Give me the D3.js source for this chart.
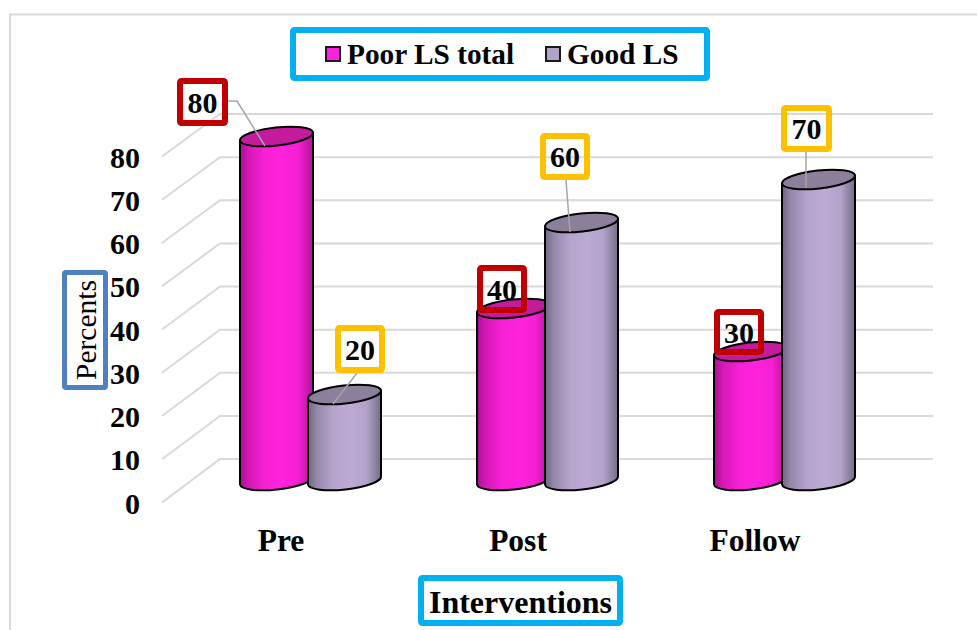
<!DOCTYPE html>
<html>
<head>
<meta charset="utf-8">
<script src="https://cdn.jsdelivr.net/npm/d3@7/dist/d3.min.js"></script>
<style>
  html, body { margin: 0; padding: 0; background: #fff; }
  svg { display: block; }
  text { font-family: "Liberation Serif", "Times New Roman", serif; fill: #000; }
</style>
</head>
<body>
<svg id="chart" width="977" height="630"></svg>
<script>
const categories = ["Pre", "Post", "Follow"];
const seriesNames = ["Poor LS total", "Good LS"];
const poorValues = [80, 40, 30];
const goodValues = [20, 60, 70];
const tickValues = [0, 10, 20, 30, 40, 50, 60, 70, 80];
const axisTitle = "Percents";
const categoryTitle = "Interventions";

const palette = {
  poor: { edge: "#a8108f", mid: "#ff22dc", top: "#c41a9e", box: "#c00000" },
  good: { edge: "#6e6580", mid: "#bcaad4", top: "#8b7f9c", box: "#ffc000" }
};

const svg = d3.select("#chart");
const defs = svg.append("defs");

// Shared value scales for the floor depth of the pseudo-3D plot.
const yFront = d3.scaleLinear().domain([0, 80]).range([503.5, 157.5]);
const yBack = d3.scaleLinear().domain([0, 80]).range([459, 114]);
const yBar = d3.scaleLinear().domain([0, 80]).range([480.5, 136.5]);
const xCat = d3.scaleBand().domain(categories).range([162.5, 873.5]);
const xSeries = d3.scaleBand().domain(seriesNames).range([-39, 97]);

// Outer frame of the chart area, running off the right and bottom edges.
svg.append("path")
  .attr("d", d3.line()([[10, 640], [10, 14.5], [990, 14.5]]))
  .attr("fill", "none").attr("stroke", "#d9d9d9").attr("stroke-width", 2);

// Back wall gridlines with the diagonal floor/side lines.
const grid = svg.append("g").attr("stroke", "#d9d9d9").attr("stroke-width", 2).attr("fill", "none");
grid.selectAll("path").data(tickValues).join("path")
  .attr("d", v => d3.line()([[162, yFront(v) - 1], [220, yBack(v)], [933, yBack(v)]]));

// Tick labels on the front edge of the value axis.
const axis = svg.append("g")
  .attr("transform", "translate(146,0)")
  .call(d3.axisLeft(yFront).tickValues(tickValues).tickSize(0).tickPadding(6));
axis.select(".domain").remove();
axis.selectAll("text")
  .style("font-family", '"Liberation Serif", serif')
  .style("font-size", "30px").style("font-weight", "700").attr("fill", "#000");

// Horizontal shading across each cylinder.
Object.entries(palette).forEach(([key, c]) => {
  const g = defs.append("linearGradient").attr("id", "body-" + key);
  const mix = d3.interpolateRgb(c.edge, c.mid);
  [[0, c.edge], [0.12, mix(0.5)], [0.35, mix(0.92)], [0.58, c.mid], [0.8, mix(0.88)], [1, mix(0.1)]]
    .forEach(([o, col]) => g.append("stop").attr("offset", o).attr("stop-color", col));
});

const halfWidth = 36.5, tilt = 4, rx = Math.hypot(halfWidth, tilt), ry = 9;
const angle = -Math.atan2(tilt, halfWidth) * 180 / Math.PI;

function drawCylinder(parent, cx, value, key) {
  const x0 = cx - halfWidth, x1 = cx + halfWidth;
  const yT = yBar(value), yB = yBar(0);
  const g = parent.append("g").attr("stroke", "#000").attr("stroke-width", 2);
  g.append("path")
    .attr("fill", `url(#body-${key})`)
    .attr("d", `M${x0},${yT + tilt}L${x0},${yB + tilt}A${rx},${ry} ${angle} 0 0 ${x1},${yB - tilt}L${x1},${yT - tilt}Z`);
  g.append("ellipse")
    .attr("cx", cx).attr("cy", yT).attr("rx", rx).attr("ry", ry)
    .attr("transform", `rotate(${angle} ${cx} ${yT})`)
    .attr("fill", palette[key].top);
}

const bars = svg.append("g");
categories.forEach((cat, i) => {
  const base = xCat(cat) + xCat.bandwidth() / 2;
  drawCylinder(bars, base + xSeries(seriesNames[0]) + xSeries.bandwidth() / 2 + 0.5, poorValues[i], "poor");
  drawCylinder(bars, base + xSeries(seriesNames[1]) + xSeries.bandwidth() / 2 + 0.5, goodValues[i], "good");
});

// Category labels below the floor.
svg.append("g").selectAll("text").data(categories).join("text")
  .attr("x", d => xCat(d) + xCat.bandwidth() / 2)
  .attr("y", 551)
  .attr("text-anchor", "middle")
  .attr("font-size", 31.5).attr("font-weight", 700)
  .text(d => d);

function outlinedBox(x, y, w, h, color, sw) {
  svg.append("rect")
    .attr("x", x + sw / 2).attr("y", y + sw / 2)
    .attr("width", w - sw).attr("height", h - sw)
    .attr("rx", 1.5)
    .attr("fill", "none").attr("stroke", color).attr("stroke-width", sw);
}

// Value callouts: an open box plus a grey leader to the top of the cylinder.
const callouts = [
  { v: poorValues[0], key: "poor", box: [177, 78, 51, 48], leader: [[228, 101], [237, 101], [265, 146]] },
  { v: goodValues[0], key: "good", box: [335, 325, 50, 48], leader: [[357, 373], [333, 404]] },
  { v: poorValues[1], key: "poor", box: [477, 265, 50, 48], leader: null },
  { v: goodValues[1], key: "good", box: [540, 133, 50, 47], leader: [[566, 180], [570, 232]] },
  { v: poorValues[2], key: "poor", box: [714, 309, 50, 46], leader: null },
  { v: goodValues[2], key: "good", box: [781, 105, 51, 47], leader: [[806, 152], [806, 188]] }
];
callouts.forEach(c => {
  if (c.leader) {
    svg.append("path").attr("d", d3.line()(c.leader))
      .attr("fill", "none").attr("stroke", "#a6a6a6").attr("stroke-width", 1.5);
  }
  const [x, y, w, h] = c.box;
  outlinedBox(x, y, w, h, palette[c.key].box, 6);
  svg.append("text")
    .attr("x", x + w / 2).attr("y", y + h / 2 + 10.5)
    .attr("text-anchor", "middle")
    .attr("font-size", 30).attr("font-weight", 700)
    .text(c.v);
});

// Legend.
outlinedBox(290, 27, 420, 54, "#00b0f0", 6);
const legendX = [325, 545];
seriesNames.forEach((name, i) => {
  svg.append("rect")
    .attr("x", legendX[i] + 1).attr("y", 47).attr("width", 14).attr("height", 14)
    .attr("fill", i === 0 ? palette.poor.mid : "#b3a2c7")
    .attr("stroke", "#1a1a1a").attr("stroke-width", 2);
  svg.append("text")
    .attr("x", legendX[i] + 22).attr("y", 64)
    .attr("font-size", 29.3).attr("font-weight", 700)
    .text(name);
});

// Axis titles.
outlinedBox(62, 270, 46, 120, "#4f81bd", 5);
svg.append("text")
  .attr("transform", "translate(96,330) rotate(-90)")
  .attr("text-anchor", "middle")
  .attr("font-size", 29.5)
  .text(axisTitle);

outlinedBox(418, 575, 205, 51, "#00b0f0", 6);
svg.append("text")
  .attr("x", 520.5).attr("y", 613)
  .attr("text-anchor", "middle")
  .attr("font-size", 32).attr("font-weight", 700)
  .text(categoryTitle);
</script>
</body>
</html>
